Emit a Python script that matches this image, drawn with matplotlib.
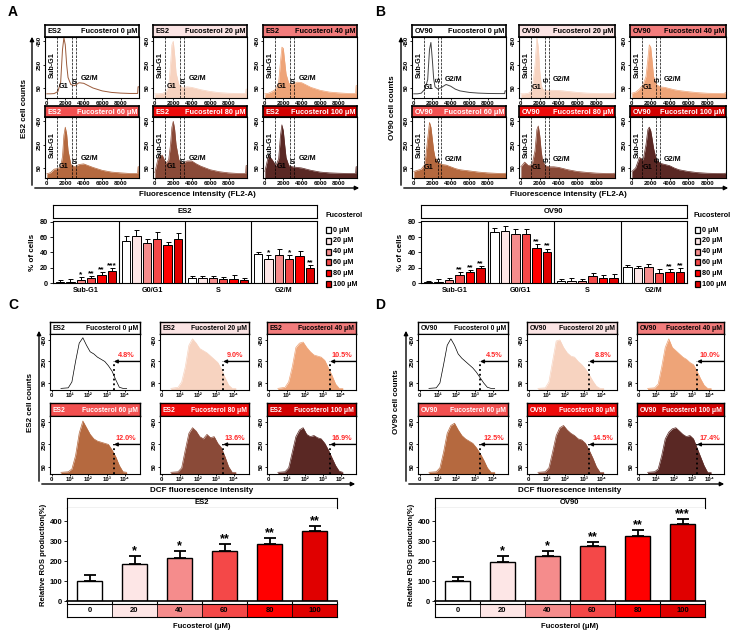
import numpy as np
import matplotlib.pyplot as plt
from matplotlib.patches import Rectangle, FancyArrowPatch

plt.rcParams['font.family'] = ['Liberation Sans', 'DejaVu Sans']
plt.rcParams['font.weight'] = 'bold'
plt.rcParams['axes.labelweight'] = 'bold'
plt.rcParams['axes.linewidth'] = 0.8

# ---- data ----
doses = ['0', '20', '40', '60', '80', '100']
phases = ['Sub-G1', 'G0/G1', 'S', 'G2/M']

bar_colors = ['#ffffff', '#fde6e6', '#f58c8c', '#f44848', '#ff0000', '#e00000']
header_colors = ['#ffffff', '#fbe4e4', '#f27c7c', '#f25050', '#ee0a0a', '#d20000']
header_text = ['k', 'k', 'k', 'w', 'w', 'w']
hist_colors = ['none', '#f7d3c0', '#eea478', '#b5693f', '#8a4a38', '#5a2824']

# cell cycle histograms (FL2-A), counts
cc_x = [0, 400, 800, 1200, 1500, 1700, 1850, 2000, 2150, 2300, 2600, 3000,
        3500, 4000, 4500, 5000, 6000, 7000, 8000, 9000, 9850, 9900, 10000]
es2_cc = [
    [0, 0, 2, 20, 100, 380, 480, 420, 250, 140, 80, 70, 95, 90, 70, 50, 25, 12, 6, 3, 3, 60, 60],
    [0, 0, 3, 15, 60, 250, 420, 450, 330, 180, 80, 55, 60, 55, 45, 35, 20, 10, 5, 3, 3, 40, 40],
    [0, 5, 20, 40, 100, 280, 400, 390, 280, 170, 90, 85, 100, 95, 75, 55, 30, 15, 8, 3, 3, 70, 70],
    [0, 10, 40, 45, 60, 150, 330, 400, 340, 200, 80, 60, 80, 85, 70, 55, 30, 15, 8, 3, 3, 60, 60],
    [10, 150, 160, 90, 120, 250, 400, 450, 380, 250, 120, 90, 110, 110, 85, 65, 35, 18, 8, 3, 3, 70, 70],
    [20, 160, 120, 70, 130, 330, 420, 370, 250, 140, 70, 60, 55, 50, 40, 30, 15, 8, 5, 3, 3, 60, 60],
]
ov90_cc = [
    [0, 0, 5, 40, 120, 380, 440, 300, 130, 60, 40, 55, 80, 65, 40, 25, 12, 6, 3, 2, 2, 25, 25],
    [0, 0, 5, 30, 250, 480, 400, 200, 80, 40, 30, 30, 30, 28, 25, 20, 12, 6, 3, 2, 2, 10, 10],
    [5, 15, 40, 80, 150, 300, 420, 400, 280, 150, 80, 60, 55, 45, 35, 28, 18, 10, 5, 3, 2, 10, 10],
    [20, 30, 40, 80, 300, 440, 400, 300, 200, 140, 100, 80, 75, 60, 45, 35, 25, 15, 8, 4, 3, 5, 5],
    [60, 100, 70, 80, 200, 380, 410, 330, 200, 110, 70, 60, 60, 55, 45, 35, 20, 12, 6, 3, 2, 5, 5],
    [20, 50, 140, 120, 250, 380, 400, 370, 300, 220, 120, 90, 80, 70, 50, 35, 20, 10, 5, 3, 2, 5, 5],
]

# DCF histograms, x in decades
dcf_x = [0.5, 0.9, 1.1, 1.3, 1.5, 1.7, 1.9, 2.1, 2.3, 2.5, 2.7, 2.9, 3.1, 3.3, 3.5, 3.7, 3.9, 4.1]
es2_dcf = [
    [0, 5, 60, 250, 420, 470, 400, 340, 320, 290, 270, 250, 210, 160, 80, 10, 0, 0],
    [0, 10, 60, 200, 400, 460, 420, 370, 350, 330, 300, 270, 240, 180, 100, 30, 0, 0],
    [0, 10, 60, 200, 380, 420, 430, 380, 340, 310, 300, 290, 260, 190, 120, 40, 0, 0],
    [0, 5, 30, 150, 350, 460, 400, 340, 300, 280, 270, 260, 250, 200, 140, 60, 5, 0],
    [0, 5, 40, 200, 350, 400, 370, 320, 300, 340, 310, 320, 260, 220, 140, 50, 0, 0],
    [0, 5, 40, 180, 320, 380, 400, 340, 320, 330, 310, 300, 260, 200, 130, 60, 10, 0],
]
ov90_dcf = [
    [0, 5, 50, 220, 400, 460, 400, 320, 280, 250, 220, 190, 150, 100, 50, 10, 0, 0],
    [0, 5, 60, 250, 440, 450, 380, 330, 300, 290, 250, 220, 180, 130, 70, 20, 0, 0],
    [0, 5, 40, 200, 380, 460, 380, 350, 320, 290, 270, 240, 220, 160, 90, 30, 0, 0],
    [0, 5, 40, 180, 350, 420, 440, 380, 330, 300, 280, 260, 220, 170, 110, 40, 0, 0],
    [0, 5, 40, 180, 330, 400, 420, 380, 350, 330, 300, 290, 260, 200, 130, 50, 0, 0],
    [0, 5, 30, 150, 300, 360, 390, 400, 370, 340, 320, 330, 300, 220, 140, 60, 0, 0],
]
es2_pct = [4.8, 9.0, 10.5, 12.0, 13.6, 16.9]
ov90_pct = [4.5, 8.8, 10.0, 12.5, 14.5, 17.4]

# cell cycle distribution (%), rows = phases, cols = doses
es2_cycle = [[1, 1, 4, 6, 10, 16], [55, 61, 52, 58, 49, 58], [6, 6, 6, 5, 5, 4], [38, 32, 37, 31, 35, 19]]
es2_cycle_err = [[3, 4, 4, 3, 4, 3], [7, 8, 6, 8, 4, 7], [3, 3, 3, 3, 5, 3], [3, 5, 7, 5, 7, 4]]
es2_cycle_sig = [['', '', '*', '**', '**', '***'], ['', '', '', '', '', ''],
                 ['', '', '', '', '', ''], ['', '*', '', '*', '', '**']]
ov90_cycle = [[1, 1.5, 3.5, 10, 14, 19], [66, 68, 64, 64, 46, 40], [2, 3, 2, 8.5, 6, 7], [21, 19, 21, 13, 14, 15]]
ov90_cycle_err = [[2, 4, 3, 4, 3, 3], [6, 6, 7, 6, 5, 5], [3, 3, 3, 4, 5, 5], [3, 3, 4, 5, 4, 4]]
ov90_cycle_sig = [['', '', '', '**', '**', '**'], ['', '', '', '', '**', '**'],
                  ['', '', '', '', '', ''], ['', '', '', '', '**', '**']]

# relative ROS production (%)
es2_ros = [100, 187, 217, 250, 283, 352]
es2_ros_err = [28, 38, 35, 35, 32, 23]
es2_ros_sig = ['', '*', '*', '**', '**', '**']
ov90_ros = [100, 195, 223, 277, 323, 385]
ov90_ros_err = [20, 28, 25, 16, 30, 27]
ov90_ros_sig = ['', '*', '*', '**', '**', '***']

W, H = 741, 636
fig = plt.figure(figsize=(W / 100, H / 100), dpi=100)


def px_axes(x0, y0, x1, y1):
    return fig.add_axes([x0 / W, 1 - y1 / H, (x1 - x0) / W, (y1 - y0) / H])


def fig_text(x, y, s, **kw):
    fig.text(x / W, 1 - y / H, s, **kw)


def fig_arrow(x0, y0, x1, y1):
    fig.add_artist(FancyArrowPatch((x0 / W, 1 - y0 / H), (x1 / W, 1 - y1 / H),
                                   transform=fig.transFigure, arrowstyle='-|>',
                                   mutation_scale=6, lw=1.0, color='k'))


def header(x0, y0, x1, y1, cell, k, fs=5.3, lw=1.2):
    ax = px_axes(x0, y0, x1, y1)
    ax.set_facecolor(header_colors[k])
    ax.set_xticks([])
    ax.set_yticks([])
    for s in ax.spines.values():
        s.set_linewidth(lw)
    tc = header_text[k]
    ax.text(0.03, 0.45, cell, ha='left', va='center', color=tc, fontsize=fs, transform=ax.transAxes)
    ax.text(0.98, 0.45, 'Fucosterol %s μM' % doses[k], ha='right', va='center', color=tc,
            fontsize=fs, transform=ax.transAxes)


def small_ticks(ax):
    ax.tick_params(direction='out', length=1.5, width=0.6, labelsize=4.4, pad=1)
    for lab in ax.get_yticklabels():
        lab.set_rotation(90)
        lab.set_va('center')


def cycle_hists(cols, rows, cell, curves, lines, labs, edge0):
    for k in range(6):
        r, c = divmod(k, 3)
        x0, x1 = cols[c]
        (h0, h1), (p0, p1) = rows[r]
        header(x0, h0, x1, h1, cell, k)
        ax = px_axes(x0, p0, x1, p1)
        y = curves[k]
        if k == 0:
            ax.plot(cc_x, y, color=edge0, lw=0.7)
        else:
            ax.fill_between(cc_x, y, -40, color=hist_colors[k], lw=0)
            ax.plot(cc_x, y, color=hist_colors[k], lw=0.5)
        for xv in lines:
            ax.axvline(xv, color='k', ls='--', lw=0.5)
        ax.text(labs['Sub-G1'][0], labs['Sub-G1'][1], 'Sub-G1', rotation=90, ha='center',
                va='center', fontsize=5.2)
        ax.text(*labs['G1'], 'G1', ha='center', va='center', fontsize=5.2)
        ax.text(labs['S'][0], labs['S'][1], 'S', ha='center', va='center', fontsize=5.2,
                rotation=labs['S'][2])
        ax.text(*labs['G2/M'], 'G2/M', ha='center', va='center', fontsize=5.2)
        ax.set_xlim(-200, 10000)
        ax.set_ylim(-36, 487)
        ax.set_xticks([0, 2000, 4000, 6000, 8000])
        ax.set_yticks([50, 250, 450])
        small_ticks(ax)


def dcf_hists(cols, rows, cell, curves, pct, gate):
    for k in range(6):
        r, c = divmod(k, 3)
        x0, x1 = cols[c]
        (h0, h1), (p0, p1) = rows[r]
        header(x0, h0, x1, h1, cell, k, fs=4.9, lw=1.0)
        ax = px_axes(x0, p0, x1, p1)
        y = curves[k]
        if k == 0:
            ax.plot(dcf_x, y, color='k', lw=0.5)
        else:
            ax.fill_between(dcf_x, y, -15, color=hist_colors[k], lw=0)
            ax.plot(dcf_x, y, color=hist_colors[k], lw=0.5)
        ax.plot([gate, gate], [-15, 250], color='k', ls=':', lw=1.3)
        ax.annotate('', xy=(gate, 250), xytext=(4.85, 250),
                    arrowprops=dict(arrowstyle='-|>', lw=1.0, color='k', mutation_scale=5,
                                    shrinkA=0, shrinkB=0))
        ax.text(4.05, 275, '%.1f%%' % pct[k], color='#ff2a2a', ha='center', va='bottom', fontsize=5.2)
        ax.set_xlim(-0.1, 4.83)
        ax.set_ylim(-15, 505)
        ax.set_xticks([0, 1, 2, 3, 4], ['0', '10¹', '10²', '10³', '10⁴'])
        ax.set_yticks([50, 250, 450])
        small_ticks(ax)


def cycle_bars(x0, x1, hdr, plot, cell, vals, errs, sigs, legx):
    hax = px_axes(x0, hdr[0], x1, hdr[1])
    hax.set_xticks([])
    hax.set_yticks([])
    hax.text(0.5, 0.5, cell, ha='center', va='center', fontsize=5.5, transform=hax.transAxes)
    ax = px_axes(x0, plot[0], x1, plot[1])
    for i in range(6):
        xs = np.arange(4) + 0.5 + (i - 2.5) * 0.158
        v = np.array([vals[g][i] for g in range(4)])
        e = np.array([errs[g][i] for g in range(4)])
        ax.bar(xs, v, 0.128, color=bar_colors[i], edgecolor='k', lw=0.7)
        ax.errorbar(xs, v, yerr=[np.zeros(4), e], fmt='none', ecolor='k', elinewidth=0.7,
                    capsize=1.8, capthick=0.7)
        for g in range(4):
            if sigs[g][i]:
                ax.text(xs[g], v[g] + e[g] - 1.5, sigs[g][i], ha='center', va='bottom', fontsize=6)
    for b in (1, 2, 3):
        ax.axvline(b, color='k', lw=0.8)
    ax.set_xlim(0, 4)
    ax.set_ylim(0, 81)
    ax.set_xticks(np.arange(4) + 0.5, phases)
    ax.set_yticks(range(0, 81, 20))
    ax.tick_params(axis='x', length=0, labelsize=5.2, pad=3)
    ax.tick_params(axis='y', length=2, width=0.6, labelsize=5.2, pad=1.5)
    ax.set_ylabel('% of cells', fontsize=5.8, labelpad=3)
    # legend
    fig_text(legx, 216, 'Fucosterol', fontsize=5.2, ha='left', va='center')
    for i in range(6):
        yc = 230 + i * 10.8
        fig.add_artist(Rectangle(((legx + 1) / W, 1 - (yc + 3) / H), 5 / W, 6 / H,
                                 transform=fig.transFigure, facecolor=bar_colors[i],
                                 edgecolor='k', lw=0.9))
        fig_text(legx + 8, yc, '%s μM' % doses[i], fontsize=5.2, ha='left', va='center')


def ros_bars(x0, x1, cell, vals, errs, sigs):
    hax = px_axes(x0, 498, x1, 508)
    hax.set_xticks([])
    hax.set_yticks([])
    hax.text(0.5, 0.5, cell, ha='center', va='center', fontsize=5.5, transform=hax.transAxes)
    ax = px_axes(x0, 508, x1, 601)
    xs = np.arange(6)
    ax.bar(xs, vals, 0.56, color=bar_colors, edgecolor='k', lw=1.0, zorder=2)
    ax.errorbar(xs, vals, yerr=[np.zeros(6), errs], fmt='none', ecolor='k', elinewidth=1.3,
                capsize=4.5, capthick=1.3, zorder=1)
    for i in range(6):
        if sigs[i]:
            ax.text(xs[i], vals[i] + errs[i] - 6, sigs[i], ha='center', va='bottom', fontsize=9)
    ax.set_xlim(-0.5, 5.5)
    ax.set_ylim(0, 465)
    ax.spines['top'].set_visible(False)
    ax.spines['right'].set_visible(False)
    ax.spines['bottom'].set_linewidth(1.2)
    ax.set_xticks([])
    ax.set_xticks(np.arange(-0.5, 6, 1), minor=True)
    ax.tick_params(axis='x', which='minor', length=2, width=0.8, labelbottom=False)
    ax.set_yticks(range(0, 401, 100))
    ax.tick_params(axis='y', length=2, width=0.6, labelsize=5.5, pad=1.5)
    ax.set_ylabel('Relative ROS production(%)', fontsize=5.5, labelpad=2)
    sax = px_axes(x0, 604, x1, 617)
    for i in range(6):
        sax.add_patch(Rectangle((i, 0), 1, 1, facecolor=bar_colors[i], edgecolor='k', lw=0.5))
        sax.text(i + 0.5, 0.5, doses[i], ha='center', va='center', fontsize=5.5)
    sax.set_xlim(0, 6)
    sax.set_ylim(0, 1)
    sax.set_xticks([])
    sax.set_yticks([])
    fig_text((x0 + x1) / 2, 626, 'Fucosterol (μM)', fontsize=5.5, ha='center', va='center')


# ---- panel A / B: cell cycle histograms ----
cc_rows = [((25, 37), (37, 98)), ((106, 117), (117, 178))]
es2_labs = {'Sub-G1': (550, 250), 'G1': (1800, 60), 'S': (2980, 100, 0), 'G2/M': (4600, 130)}
ov90_labs = {'Sub-G1': (550, 250), 'G1': (1650, 55), 'S': (2800, 120, 90), 'G2/M': (4300, 125)}
cycle_hists([(45, 139), (153, 247), (263, 357)], cc_rows, 'ES2', es2_cc,
            [1050, 2750, 3200], es2_labs, '#9a5a3a')
cycle_hists([(412, 506), (519, 615), (630, 726)], cc_rows, 'OV90', ov90_cc,
            [1100, 2600, 3000], ov90_labs, '#444444')

fig_arrow(32, 188, 32, 34)
fig_arrow(32, 188, 362, 188)
fig_arrow(401, 188, 401, 34)
fig_arrow(401, 188, 731, 188)
fig_text(24, 108, 'ES2 cell counts', rotation=90, fontsize=5.8, ha='center', va='center')
fig_text(392, 108, 'OV90 cell counts', rotation=90, fontsize=5.8, ha='center', va='center')
fig_text(197, 195, 'Fluorescence intensity (FL2-A)', fontsize=5.8, ha='center', va='center')
fig_text(568, 195, 'Fluorescence intensity (FL2-A)', fontsize=5.8, ha='center', va='center')

cycle_bars(53, 317, (205, 218), (221, 283), 'ES2', es2_cycle, es2_cycle_err, es2_cycle_sig, 325)
cycle_bars(421, 687, (205, 218), (221, 283), 'OV90', ov90_cycle, ov90_cycle_err, ov90_cycle_sig, 694)

# ---- panel C / D: DCF histograms ----
dcf_rows = [((322, 334), (334, 390)), ((403, 416), (416, 474))]
dcf_hists([(50, 140), (160, 249), (267, 356)], dcf_rows, 'ES2', es2_dcf, es2_pct, 3.4)
dcf_hists([(418, 508), (527, 617), (637, 724)], dcf_rows, 'OV90', ov90_dcf, ov90_pct, 3.3)

fig_arrow(39, 484, 39, 328)
fig_arrow(39, 484, 358, 484)
fig_arrow(406, 484, 406, 328)
fig_arrow(406, 484, 727, 484)
fig_text(30, 402, 'ES2 cell counts', rotation=90, fontsize=5.8, ha='center', va='center')
fig_text(397, 402, 'OV90 cell counts', rotation=90, fontsize=5.8, ha='center', va='center')
fig_text(202, 491, 'DCF fluorescence intensity', fontsize=5.8, ha='center', va='center')
fig_text(570, 490, 'DCF fluorescence intensity', fontsize=5.8, ha='center', va='center')

ros_bars(67, 337, 'ES2', es2_ros, es2_ros_err, es2_ros_sig)
ros_bars(435, 705, 'OV90', ov90_ros, ov90_ros_err, ov90_ros_sig)

for lab, x, y in [('A', 13, 12), ('B', 380, 12), ('C', 13, 305), ('D', 380, 305)]:
    fig_text(x, y, lab, fontsize=10, ha='center', va='center')

fig.savefig('out.png', dpi=100)
